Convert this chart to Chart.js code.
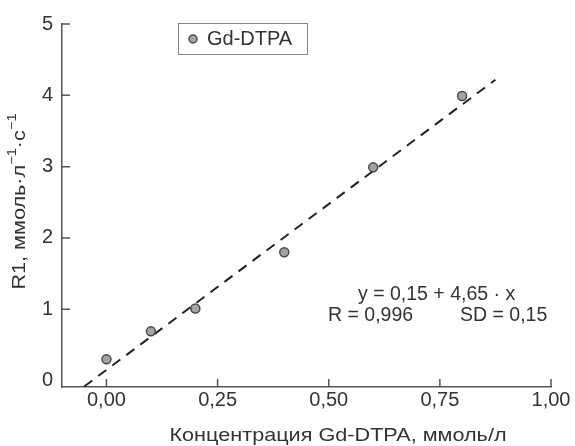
<!DOCTYPE html>
<html>
<head>
<meta charset="utf-8">
<script src="https://cdn.jsdelivr.net/npm/chart.js@4/dist/chart.umd.min.js"></script>
<style>
  html, body { margin: 0; padding: 0; background: #fff; }
  #wrap { width: 575px; height: 446px; }
</style>
</head>
<body>
<div id="wrap"><canvas id="chart" width="575" height="446"></canvas></div>
<script>
// Measured relaxation rate R1 versus Gd-DTPA concentration
const seriesLabel = 'Gd-DTPA';
const concentration = [0.0, 0.1, 0.2, 0.4, 0.6, 0.8];
const relaxationR1 = [0.30, 0.69, 1.01, 1.80, 2.99, 3.99];

// Linear regression reported for the series
const fitIntercept = 0.15;
const fitSlope = 4.65;
const fitR = 0.996;
const fitSD = 0.15;
const fitXRange = [-0.05, 0.875];

// Axis ticks and titles
const xTickValues = [0, 0.25, 0.5, 0.75, 1.0];
const yTickValues = [0, 1, 2, 3, 4, 5];
const xTitle = 'Концентрация Gd-DTPA, ммоль/л';
const yTitleParts = [
  { text: 'R1, ммоль·л', sup: false },
  { text: '−1', sup: true },
  { text: '·с', sup: false },
  { text: '−1', sup: true }
];

const FONT = "'Liberation Sans', Arial, Helvetica, sans-serif";
const TEXT = '#333';
const AXIS = '#555';
const TITLE_STRETCH = 1.17; // axis titles use a wide grotesque face

const comma = (v, d) => v.toFixed(d).replace('.', ',');

const points = concentration.map((x, i) => ({ x, y: relaxationR1[i] }));
const fitLine = fitXRange.map(x => ({ x, y: fitIntercept + fitSlope * x }));

// Inward tick marks, legend frame, regression text and axis titles
const decorations = {
  id: 'decorations',
  afterDraw(chart) {
    const { ctx, chartArea: a, scales: { x, y } } = chart;
    ctx.save();

    // tick marks pointing into the plot
    ctx.strokeStyle = AXIS;
    ctx.lineWidth = 1.5;
    ctx.beginPath();
    xTickValues.forEach(v => {
      const px = x.getPixelForValue(v);
      ctx.moveTo(px, a.bottom);
      ctx.lineTo(px, a.bottom - 8);
    });
    yTickValues.filter(v => v !== 0).forEach(v => {
      const py = y.getPixelForValue(v);
      ctx.moveTo(a.left, py);
      ctx.lineTo(a.left + 8, py);
    });
    ctx.stroke();

    // legend
    const ds = chart.data.datasets[0];
    const lx = a.left + 116, ly = a.top - 1, lw = 129, lh = 31;
    ctx.strokeStyle = '#888';
    ctx.lineWidth = 1;
    ctx.strokeRect(lx + 0.5, ly + 0.5, lw, lh);
    ctx.beginPath();
    ctx.arc(lx + 15, ly + lh / 2 + 0.5, 4, 0, Math.PI * 2);
    ctx.fillStyle = ds.backgroundColor;
    ctx.fill();
    ctx.strokeStyle = ds.borderColor;
    ctx.lineWidth = 1.5;
    ctx.stroke();
    ctx.fillStyle = TEXT;
    ctx.font = `20px ${FONT}`;
    ctx.textBaseline = 'middle';
    ctx.textAlign = 'left';
    ctx.fillText(ds.label, lx + 29, ly + lh / 2 + 1);

    // regression summary
    ctx.font = `19.5px ${FONT}`;
    ctx.fillText(`y = ${comma(fitIntercept, 2)} + ${comma(fitSlope, 2)} · x`, a.left + 296, 295);
    ctx.fillText(`R = ${comma(fitR, 3)}`, a.left + 266, 316);
    ctx.fillText(`SD = ${comma(fitSD, 2)}`, a.left + 398, 316);

    // x axis title
    ctx.save();
    ctx.font = `18.5px ${FONT}`;
    ctx.textAlign = 'center';
    ctx.translate(a.left + 276, 436);
    ctx.scale(TITLE_STRETCH, 1);
    ctx.fillText(xTitle, 0, 0);
    ctx.restore();

    // y axis title with superscripts
    const base = `18.5px ${FONT}`, small = `12.5px ${FONT}`;
    let total = 0;
    yTitleParts.forEach(p => {
      ctx.font = p.sup ? small : base;
      p.w = ctx.measureText(p.text).width;
      total += p.w;
    });
    ctx.translate(20, (a.top + a.bottom) / 2 - 4);
    ctx.rotate(-Math.PI / 2);
    ctx.scale(TITLE_STRETCH, 1);
    ctx.textAlign = 'left';
    let cx = -total / 2;
    yTitleParts.forEach(p => {
      ctx.font = p.sup ? small : base;
      ctx.fillText(p.text, cx, p.sup ? -7 : 0);
      cx += p.w;
    });

    ctx.restore();
  }
};

new Chart(document.getElementById('chart'), {
  type: 'scatter',
  data: {
    datasets: [
      {
        label: seriesLabel,
        data: points,
        pointRadius: 4.5,
        pointHoverRadius: 4.5,
        backgroundColor: '#a3a3a3',
        borderColor: '#4a4a4a',
        borderWidth: 1.5,
        order: 0
      },
      {
        label: 'fit',
        type: 'line',
        data: fitLine,
        borderColor: '#222',
        borderWidth: 2,
        borderDash: [10, 7.5],
        pointRadius: 0,
        fill: false,
        clip: false,
        order: 1
      }
    ]
  },
  options: {
    responsive: false,
    animation: false,
    devicePixelRatio: 1,
    layout: { padding: { top: 24, right: 24, left: 0, bottom: 0 } },
    plugins: { legend: { display: false }, tooltip: { enabled: false } },
    scales: {
      x: {
        type: 'linear',
        min: -0.1,
        max: 1.0,
        afterBuildTicks: s => { s.ticks = xTickValues.map(v => ({ value: v })); },
        afterFit: s => { s.height = 59; },
        grid: { display: false, drawTicks: false },
        border: { display: true, color: AXIS, width: 1.5 },
        ticks: {
          padding: 1,
          color: TEXT,
          maxRotation: 0,
          font: { family: FONT, size: 20 },
          callback: v => comma(v, 2)
        }
      },
      y: {
        type: 'linear',
        min: -0.09,
        max: 5,
        afterBuildTicks: s => { s.ticks = yTickValues.map(v => ({ value: v })); },
        afterFit: s => { s.width = 62; },
        grid: { display: false, drawTicks: false },
        border: { display: true, color: AXIS, width: 1.5 },
        ticks: {
          padding: 9,
          color: TEXT,
          font: { family: FONT, size: 20 },
          callback: v => String(v)
        }
      }
    }
  },
  plugins: [decorations]
});
</script>
</body>
</html>
